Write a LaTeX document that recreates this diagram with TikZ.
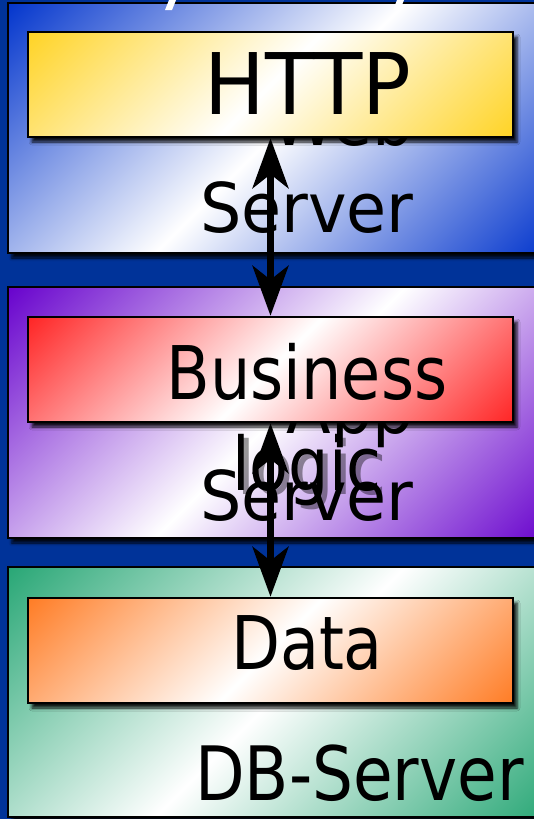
\documentclass[tikz,border=0pt]{standalone}
\usepackage{fontspec}
\setmainfont{DejaVu Sans}[FakeStretch=0.86]
\newfontfamily\widesans{DejaVu Sans}[FakeStretch=0.95]
\usepackage{tikz}
\usetikzlibrary{arrows.meta,shadows.blur}
\definecolor{slidebg}{HTML}{003399}
\definecolor{webblue}{HTML}{0033CC}
\definecolor{apppurple}{HTML}{6600CC}
\definecolor{dbgreen}{HTML}{26A674}
\definecolor{httpyellow}{HTML}{FFCC00}
\definecolor{bizred}{HTML}{FF0000}
\definecolor{dataorange}{HTML}{FF6600}

\begin{document}
\begin{tikzpicture}[x=1pt, y=-1pt,
  tier/.style={draw, line width=2pt, inner sep=0pt,
    minimum width=544pt, minimum height=250pt,
    blur shadow={shadow xshift=4pt, shadow yshift=-5pt,
      shadow blur radius=3pt, shadow opacity=90},
    path picture={\shade[top color=#1, bottom color=#1, middle color=white,
      shading angle=45] (path picture bounding box.center)
      ++(-285pt,-285pt) rectangle ++(570pt,570pt);}},
  layer/.style={draw, line width=2.5pt, inner sep=0pt,
    minimum width=485pt, minimum height=105pt,
    blur shadow={shadow xshift=4pt, shadow yshift=-5pt,
      shadow blur radius=3pt, shadow opacity=90},
    path picture={\shade[top color=#1, bottom color=#1, middle color=white,
      shading angle=45] (path picture bounding box.center)
      ++(-245pt,-245pt) rectangle ++(490pt,490pt);}},
  tierlabel/.style={font=\widesans\fontsize{68.6}{87}\selectfont,
    align=right, inner sep=0pt},
  layertext/.style={font=\fontsize{74}{91}\selectfont, align=center,
    inner sep=0pt},
  link/.style={{Stealth[length=50pt, width=36pt, inset=14pt]}-{Stealth[length=50pt, width=36pt, inset=14pt]},
    line width=6.5pt}
]

% Slide background
\path[use as bounding box, fill=slidebg] (0,0) rectangle (534,819);
\clip (0,0) rectangle (534,819);

% Tiers (base anchor sits on the last line)
\node[tier=webblue] (web) at (280,128) {};
\node[tierlabel, anchor=base east] (weblbl) at (414,232) {Web\\Server};

\node[tier=apppurple, minimum height=251pt] (app) at (280,412.5) {};
\node[tierlabel, anchor=base east] (applbl) at (414,520) {App\\Server};

\node[tier=dbgreen] (db) at (280,692) {};
\node[tierlabel, font=\fontsize{75}{90}\selectfont, anchor=base east]
  (dblbl) at (524,800) {DB-Server};

% Shadow of the overflowing layer text
\node[layertext, anchor=base, text=black, opacity=0.4] (bizshadow)
  at (312,494) {Business\\logic};

% Layers
\node[layer=httpyellow] (http) at (270.5,84.5) {};
\node[layertext, font=\widesans\fontsize{85}{100}\selectfont, anchor=base]
  (httptext) at (308,114) {HTTP};

\node[layer=bizred] (biz) at (270.5,369.5) {};
\node[layertext, anchor=base] (biztext) at (307,490) {Business\\logic};

\node[layer=dataorange] (data) at (270.5,650.5) {};
\node[layertext, anchor=base] (datatext) at (307,669) {Data};

% Requests between the layers
\draw[link] (http) -- (biz);
\draw[link] (biz) -- (data);

% Title descenders cut off at the top edge
\fill[white] (165,10) -- (172,10) -- (176,0) -- (169,0) -- cycle;
\fill[white] (393,10) -- (400,10) -- (404,0) -- (397,0) -- cycle;

\end{tikzpicture}
\end{document}
